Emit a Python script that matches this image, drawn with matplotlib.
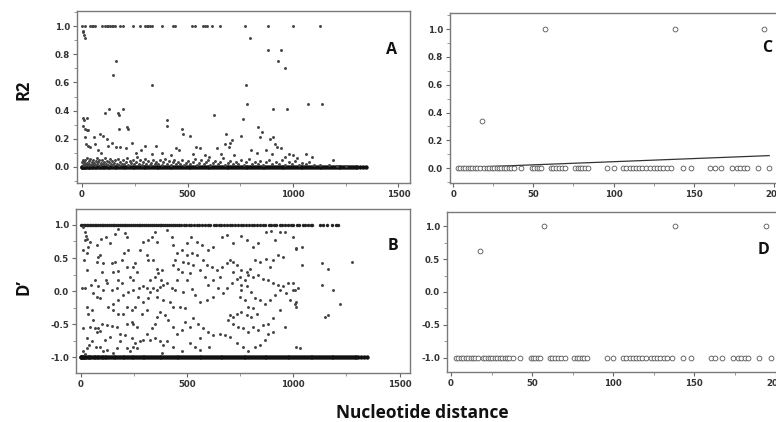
import matplotlib
matplotlib.use("Agg")
import matplotlib.pyplot as plt
from matplotlib.ticker import MultipleLocator, FixedLocator
import numpy as np

plt.rcParams['axes.unicode_minus'] = False

# ---------------- data ----------------
# pairs with R2 = 0 (and D' = -1), whole region
zero_x = [0, 2, 5, 9, 14, 20, 27, 33, 40, 46, 53, 61, 68, 75, 83, 90, 98, 106, 113, 121, 130, 138,
          146, 155, 163, 171, 180, 188, 197, 205, 214, 222, 231, 240, 248, 257, 266, 275, 283, 292,
          300, 309, 318, 327, 336, 345, 353, 362, 371, 380, 389, 398, 406, 415, 424, 433, 442, 451,
          460, 469, 478, 487, 496, 505, 514, 523, 532, 541, 550, 559, 568, 577, 586, 595, 604, 613,
          622, 631, 640, 649, 658, 667, 676, 685, 694, 703, 712, 721, 730, 739, 748, 757, 766, 775,
          784, 793, 802, 811, 820, 829, 838, 847, 856, 865, 874, 883, 892, 901, 910, 919, 928, 937,
          946, 955, 964, 973, 982, 991, 1000, 1009, 1018, 1027, 1036, 1045, 1054, 1063, 1072, 1081,
          1090, 1099, 1108, 1117, 1126, 1135, 1144, 1153, 1162, 1171, 1180, 1189, 1198, 1207, 1216,
          1225, 1234, 1243, 1252, 1261, 1270, 1279, 1288, 1297, 1306, 1318, 1331, 1345]

# R2 = 1 pairs (panel A top row)
a_one_x = [0, 14, 38, 46, 54, 62, 93, 109, 117, 125, 133, 141, 148, 156, 180, 196, 243, 275, 299,
           307, 314, 322, 330, 378, 433, 441, 520, 536, 575, 583, 591, 615, 654, 773, 883, 999, 1128]

# R2 scattered pairs (x, R2)
a_mid = [(3, .97), (6, .96), (10, .94), (15, .92), (796, .92), (880, .83), (943, .83), (930, .75),
         (962, .70), (163, .75), (145, .655), (334, .58), (776, .585), (781, .45), (1070, .45),
         (1136, .45), (972, .41), (904, .41), (130, .41), (110, .38), (172, .38), (195, .41),
         (176, .37), (3, .35), (22, .345), (8, .33), (627, .365), (404, .33), (401, .29), (765, .34),
         (3, .29), (12, .27), (22, .26), (30, .26), (175, .265), (214, .28), (218, .265), (472, .265),
         (477, .23), (836, .28), (852, .25), (682, .23), (709, .19), (701, .17), (752, .22),
         (512, .22), (844, .21), (906, .21), (15, .21), (55, .21), (85, .23), (101, .22), (120, .20),
         (20, .16), (30, .15), (40, .14), (60, .16), (75, .12), (90, .10), (125, .15), (140, .17),
         (160, .14), (180, .14), (210, .13), (235, .17), (255, .10), (280, .12), (300, .15),
         (330, .09), (350, .15), (380, .10), (420, .08), (445, .13), (460, .12), (525, .09),
         (540, .14), (560, .13), (585, .08), (600, .07), (640, .13), (660, .09), (680, .16),
         (695, .14), (720, .08), (800, .12), (830, .10), (870, .12), (890, .20), (900, .09),
         (915, .16), (925, .14), (945, .13), (960, .07), (980, .09), (1000, .08), (1020, .06),
         (1060, .09), (1090, .07), (1190, .045)]

a_low = [(2, .03), (4, .012), (6, .05), (8, .02), (11, .035), (13, .008), (16, .045), (19, .015),
         (22, .028), (25, .06), (28, .01), (31, .04), (35, .022), (38, .055), (42, .012), (45, .032),
         (49, .018), (53, .048), (57, .025), (61, .01), (65, .038), (69, .058), (73, .015), (77, .03),
         (81, .045), (85, .008), (90, .025), (94, .05), (98, .015), (103, .035), (108, .06),
         (112, .02), (117, .042), (122, .01), (127, .03), (132, .052), (137, .018), (142, .038),
         (148, .012), (153, .028), (158, .045), (164, .02), (170, .055), (176, .01), (182, .035),
         (188, .022), (194, .048), (200, .015), (207, .03), (213, .06), (220, .012), (226, .04),
         (233, .025), (240, .05), (247, .015), (254, .035), (261, .065), (268, .02), (275, .045),
         (282, .01), (290, .03), (297, .055), (305, .018), (312, .04), (320, .012), (328, .028),
         (336, .05), (344, .015), (352, .035), (360, .02), (368, .045), (377, .01), (385, .03),
         (394, .055), (402, .018), (411, .038), (420, .012), (429, .03), (438, .048), (447, .015),
         (456, .035), (466, .02), (475, .05), (485, .01), (494, .028), (504, .04), (514, .015),
         (524, .032), (534, .055), (545, .012), (555, .025), (566, .045), (576, .015), (587, .03),
         (598, .05), (609, .01), (620, .025), (632, .04), (643, .015), (655, .03), (667, .06),
         (679, .012), (691, .025), (703, .04), (715, .015), (728, .03), (740, .02), (753, .045),
         (766, .012), (779, .03), (792, .055), (805, .015), (818, .035), (832, .02), (846, .04),
         (860, .012), (874, .03), (888, .05), (903, .015), (918, .035), (933, .02), (948, .045),
         (963, .012), (979, .03), (995, .02), (1011, .04), (1027, .012), (1044, .025), (1061, .015),
         (1078, .03), (1100, .01), (1130, .012), (1170, .008), (1210, .006), (1250, .005)]

# D' = 1 pairs (panel B top row)
b_one_x = [3, 8, 14, 21, 28, 35, 43, 50, 58, 66, 74, 82, 90, 99, 107, 116, 124, 133, 141, 150, 158,
           167, 176, 184, 193, 202, 210, 219, 228, 237, 246, 254, 263, 272, 281, 290, 299, 308, 317,
           326, 335, 344, 353, 362, 371, 380, 389, 398, 407, 416, 425, 434, 443, 452, 461, 474, 486,
           497, 509, 521, 533, 545, 557, 569, 585, 597, 609, 625, 637, 649, 661, 673, 689, 701, 713,
           725, 741, 753, 765, 777, 793, 805, 817, 829, 845, 857, 869, 885, 897, 909, 921, 937, 949,
           961, 977, 989, 1001, 1017, 1029, 1045, 1057, 1069, 1082, 1090, 1126, 1140, 1160, 1180,
           1200, 1211]

# D' scattered pairs (x, D')
b_mid = [(13, .97), (20, .89), (25, .83), (20, .77), (31, .78), (44, .74), (36, .67), (13, .62),
         (28, .57), (16, .47), (31, .32), (5, .04), (20, .04), (49, .09), (67, .17), (60, -.03),
         (83, .07), (91, -.11), (107, .01), (78, .44), (91, .54), (83, .52), (107, .42), (75, .69),
         (94, .78), (119, .82), (138, .72), (161, .86), (177, .94), (208, .88), (216, .81),
         (224, .62), (204, .58), (193, .47), (216, .37), (248, .37), (255, .42), (263, .29),
         (244, .17), (232, .22), (193, .12), (172, .04), (146, .02), (119, .17), (122, .12),
         (150, .29), (177, .31), (146, .42), (161, .44), (177, .17), (99, .29), (75, -.09),
         (52, -.29), (28, -.24), (36, -.34), (60, -.44), (44, -.54), (13, -.55), (67, -.56),
         (83, -.56), (91, -.60), (75, -.61), (99, -.49), (122, -.51), (146, -.53), (169, -.54),
         (138, -.69), (114, -.74), (91, -.84), (52, -.76), (31, -.71), (31, -.86), (13, -.91),
         (20, -.95), (41, -.81), (72, -.85), (107, -.91), (122, -.89), (154, -.94), (169, -.86),
         (185, -.76), (216, -.86), (232, -.91), (248, -.84), (263, -.86), (255, -.79), (279, -.76),
         (240, -.71), (208, -.66), (185, -.64), (216, -.49), (240, -.46), (248, -.49), (263, -.54),
         (287, -.34), (310, -.29), (295, -.16), (271, -.09), (318, -.11), (342, .04), (357, .02),
         (373, .06), (389, .09), (404, .12), (376, .17), (384, .32), (357, .34), (342, .47),
         (318, .47), (310, .54), (279, .62), (295, .74), (318, .77), (334, .82), (357, .74),
         (350, .89), (404, .92), (428, .82), (436, .69), (451, .57), (443, .47), (475, .62),
         (498, .72), (517, .82), (545, .74), (569, .69), (600, .62), (624, .67), (663, .82),
         (686, .84), (718, .72), (752, .83), (780, .77), (811, .67), (835, .73), (874, .89),
         (893, .91), (913, .77), (937, .89), (961, .89), (1000, .82), (1015, .64), (1039, .67),
         (929, .54), (953, .52), (905, .47), (890, .37), (874, .49), (843, .44), (819, .47),
         (796, .34), (780, .29), (756, .32), (733, .39), (718, .44), (702, .47), (686, .42),
         (655, .22), (624, .17), (600, .09), (584, .22), (561, .32), (530, .39), (506, .42),
         (514, .27), (498, .17), (475, .29), (451, .17), (428, .04), (443, .02), (483, -.01),
         (522, .03), (537, -.06), (561, -.16), (592, -.14), (624, -.09), (647, .04), (671, -.03),
         (686, .04), (710, .12), (733, .19), (756, .09), (772, .17), (788, .24), (811, .22),
         (835, .24), (859, .19), (882, .17), (905, .12), (929, .09), (953, .07), (976, .12),
         (1000, .12), (1008, .02), (1015, -.16), (984, -.14), (968, -.03), (937, .02), (913, -.06),
         (890, -.14), (866, -.19), (843, -.14), (819, -.11), (803, -.01), (780, .07), (752, .02),
         (749, -.09), (772, -.14), (788, -.24), (811, -.26), (827, -.34), (803, -.39), (780, -.36),
         (756, -.31), (736, -.34), (718, -.39), (702, -.36), (694, -.44), (718, -.49), (741, -.54),
         (764, -.56), (788, -.61), (811, -.54), (835, -.59), (859, -.51), (882, -.49), (905, -.41),
         (937, -.29), (961, -.54), (905, -.61), (882, -.64), (866, -.74), (843, -.81), (819, -.84),
         (788, -.91), (764, -.84), (733, -.79), (702, -.69), (679, -.66), (655, -.64), (624, -.66),
         (600, -.61), (577, -.56), (553, -.49), (530, -.41), (514, -.54), (490, -.46), (475, -.59),
         (451, -.64), (436, -.54), (412, -.44), (397, -.36), (373, -.31), (357, -.39), (350, -.49),
         (334, -.56), (310, -.64), (295, -.74), (326, -.74), (350, -.71), (373, -.76), (389, -.81),
         (404, -.76), (381, -.94), (436, -.84), (475, -.91), (514, -.79), (537, -.84), (561, -.89),
         (605, -.84), (561, -.71), (436, -.24), (467, -.24), (490, -.26), (420, -.16), (389, -.14),
         (357, -.09), (326, -.01), (310, .04), (295, .07), (276, .04), (248, .02), (224, -.01),
         (201, -.06), (177, -.14), (154, -.19), (130, -.24), (154, -.29), (177, -.34), (201, -.34),
         (216, -.24), (240, -.29), (255, -.24), (326, .17), (350, .22), (365, .27), (436, .39),
         (459, .34), (483, .44), (498, .54), (522, .57), (545, .54), (577, .47), (592, .39),
         (616, .37), (639, .32), (663, .37), (718, .29), (749, .22), (1015, .65), (1000, .02),
         (1022, .04), (1008, -.19), (1015, -.24), (1015, -.84), (1031, -.86), (1039, .39),
         (1133, .42), (1164, .34), (1188, .02), (1219, -.19), (1133, .09), (1149, -.39),
         (1164, -.36), (1274, .44)]

# 200 bp window: pairs with R2 = 0 / D' = -1
win_zero_x = [3, 4.5, 6, 7.5, 9, 10.5, 12, 13.5, 15, 16.5, 19.5, 21, 22.5, 24, 25.5, 27, 28.5, 30,
              31.5, 33, 34.5, 36, 38, 42.5, 49, 50.5, 52, 53.5, 55, 61, 62.5, 64, 66, 68, 70, 76,
              77.5, 79, 80.5, 82, 84, 96, 100, 106, 108, 110, 112, 114, 116, 118, 120, 123, 125, 127,
              129, 131, 133, 136, 143, 148, 160, 163, 167, 174, 177, 179, 181, 183, 190, 197]
win_other_x = [18, 57, 138, 194]
win_other_r2 = [0.34, 1.0, 1.0, 1.0]
win_other_dp = [0.62, 1.0, 1.0, 1.0]
trend_coef = (0.00045, 0.002)   # slope, intercept of the R2 trend line
trend_span = [3, 197]

# ---------------- figure ----------------
W, H = 776, 422
fig = plt.figure(figsize=(W / 100, H / 100), dpi=100)


def box(l, t, r, b):
    return [l / W, 1 - b / H, (r - l) / W, (b - t) / H]


axA = fig.add_axes(box(77, 11, 410, 183))
axC = fig.add_axes(box(450, 13, 782, 183))
axB = fig.add_axes(box(76, 209, 410, 373))
axD = fig.add_axes(box(447, 212, 782, 372))

dot = dict(s=4.5, color='#444444', linewidths=0, marker='o')
band = dict(s=10, color='#111111', linewidths=0, marker='o')

# Panel A
axA.scatter(zero_x, np.zeros(len(zero_x)), **band)
lx, ly = zip(*a_low)
axA.scatter(lx, ly, **dot)
mx, my = zip(*a_mid)
axA.scatter(mx, my, **dot)
axA.scatter(a_one_x, np.ones(len(a_one_x)), **dot)
axA.set_xlim(-24, 1555)
axA.set_ylim(-0.117, 1.11)
axA.yaxis.set_major_locator(FixedLocator([0, 0.2, 0.4, 0.6, 0.8, 1.0]))
axA.yaxis.set_minor_locator(MultipleLocator(0.1))

# Panel B
axB.scatter(zero_x, -np.ones(len(zero_x)), **band)
axB.scatter(b_one_x, np.ones(len(b_one_x)), s=6, color='#222222', linewidths=0)
bx, by = zip(*b_mid)
axB.scatter(bx, by, **dot)
axB.set_xlim(-22, 1549)
axB.set_ylim(-1.236, 1.24)
axB.yaxis.set_major_locator(FixedLocator([-1.0, -0.5, 0.0, 0.5, 1.0]))
axB.yaxis.set_minor_locator(MultipleLocator(0.25))

for ax in (axA, axB):
    ax.xaxis.set_major_locator(FixedLocator([0, 500, 1000, 1500]))
    ax.xaxis.set_minor_locator(MultipleLocator(250))

circ = dict(s=12, facecolors='white', edgecolors='#555555', linewidths=0.6, marker='o', zorder=3)

# Panel C
axC.scatter(win_zero_x, np.zeros(len(win_zero_x)), **circ)
axC.scatter(win_other_x, win_other_r2, **circ)
tx = np.array(trend_span)
axC.plot(tx, trend_coef[0] * tx + trend_coef[1], color='#333333', lw=0.9, zorder=2)
axC.set_xlim(-2, 205)
axC.set_ylim(-0.106, 1.115)
axC.yaxis.set_major_locator(FixedLocator([0, 0.2, 0.4, 0.6, 0.8, 1.0]))
axC.yaxis.set_minor_locator(MultipleLocator(0.1))

# Panel D
axD.scatter(win_zero_x, -np.ones(len(win_zero_x)), **circ)
axD.scatter(win_other_x, win_other_dp, **circ)
axD.set_xlim(-2.5, 204)
axD.set_ylim(-1.219, 1.218)
axD.yaxis.set_major_locator(FixedLocator([-1.0, -0.5, 0.0, 0.5, 1.0]))
axD.yaxis.set_minor_locator(MultipleLocator(0.25))

for ax in (axC, axD):
    ax.xaxis.set_major_locator(FixedLocator([0, 50, 100, 150, 200]))
    ax.xaxis.set_minor_locator(MultipleLocator(25))

for ax in (axA, axB, axC, axD):
    for sp in ax.spines.values():
        sp.set_color('#7a7a7a')
        sp.set_linewidth(1.0)
    ax.tick_params(which='major', direction='out', length=3, width=0.8, color='#666666',
                   labelsize=6.2, labelcolor='#333333', pad=2)
    ax.tick_params(which='minor', direction='out', length=2, width=0.6, color='#888888')
    ax.yaxis.set_major_formatter(plt.FuncFormatter(lambda v, p: f"{v:.1f}"))
    ax.xaxis.set_major_formatter(plt.FuncFormatter(lambda v, p: f"{v:.0f}"))
    ax.set_facecolor('white')

for ax in (axA, axB, axC, axD):
    for lab in ax.get_xticklabels() + ax.get_yticklabels():
        lab.set_fontweight('bold')

lbl = dict(family=['Open Sans', 'DejaVu Sans'], fontweight='bold', color='#111111')
fig.text(392 / W, 1 - 54 / H, 'A', ha='center', va='baseline', fontsize=11.5, **lbl)
fig.text(767.5 / W, 1 - 52.5 / H, 'C', ha='center', va='baseline', fontsize=11.5, **lbl)
fig.text(393 / W, 1 - 250 / H, 'B', ha='center', va='baseline', fontsize=11.5, **lbl)
fig.text(763.5 / W, 1 - 254 / H, 'D', ha='center', va='baseline', fontsize=11.5, **lbl)
fig.text(23 / W, 1 - 90 / H, 'R2', rotation=90, ha='center', va='center', fontsize=12, **lbl)
fig.text(23 / W, 1 - 287 / H, 'D\u2019', rotation=90, ha='center', va='center', fontsize=12, **lbl)
fig.text(422 / W, 1 - 418 / H, 'Nucleotide distance', ha='center', va='baseline', fontsize=12.5, **lbl)

fig.savefig('out.png', dpi=100, facecolor='white')
